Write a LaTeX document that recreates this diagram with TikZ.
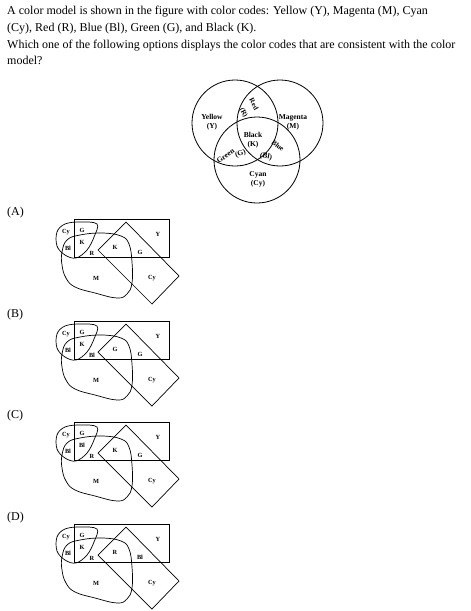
\documentclass[tikz,border=0pt]{standalone}
\usepackage{fontspec}
\setmainfont{Liberation Serif}
\begin{document}
\begin{tikzpicture}[x=1pt,y=-1pt,
  txt/.style={anchor=base west, inner sep=0pt, font=\fontsize{12}{14}\selectfont},
  vlab/.style={font=\fontsize{7.5}{9}\selectfont\bfseries, align=center, inner sep=0pt},
  olab/.style={font=\fontsize{6.3}{7}\selectfont\bfseries, inner sep=0pt},
  shp/.style={draw, line width=0.7pt},
  vc/.style={circle, draw, line width=0.8pt, minimum size=86pt, inner sep=0pt}]
\useasboundingbox (0,0) rectangle (471,611);
% question text
\node[txt] (t1) at (7,14.5) {A color model is shown in the figure with color codes: Yellow (Y), Magenta (M), Cyan};
\node[txt] (t2) at (7,31) {(Cy), Red (R), Blue (Bl), Green (G), and Black (K).};
\node[txt] (t3) at (7,48) {Which one of the following options displays the color codes that are consistent with the color};
\node[txt] (t4) at (7,64.5) {model?};
% Venn diagram
\node[vc] (cY) at (235,123) {};
\node[vc] (cM) at (280,123) {};
\node[vc] (cC) at (257,160) {};
\node[vlab] (lY) at (212,122) {Yellow\\(Y)};
\node[vlab] (lM) at (293,122) {Magenta\\(M)};
\node[vlab] (lK) at (253,140) {Black\\(K)};
\node[vlab] (lC) at (258,179) {Cyan\\(Cy)};
\node[vlab, font=\fontsize{7}{8}\selectfont\bfseries, rotate=-62] (lR1) at (254,104) {Red};
\node[vlab, font=\fontsize{7}{8}\selectfont\bfseries, rotate=-62] (lR2) at (243.5,112.5) {(R)};
\node[vlab, rotate=35] (lG1) at (225.5,156) {Green};
\node[vlab, rotate=20] (lG2) at (240.5,153.5) {(G)};
\node[vlab, font=\fontsize{7}{8}\selectfont\bfseries, rotate=-38] (lB1) at (278,145.5) {Blue};
\node[vlab, rotate=-12] (lB2) at (266,156.5) {(Bl)};
% options
\foreach \dy/\L/\a/\c/\d/\e in {0/A/K/R/K/G, 102/B/K/Bl/G/G, 203/C/Bl/R/K/G, 305/D/K/R/R/Bl}{
  \begin{scope}[shift={(0,\dy)}]
    \node[txt] (opt\L) at (7,215) {(\L)};
    \draw[shp] (74,219) rectangle (169,257);
    \draw[shp] (126,222) -- (179,276) -- (152,304) -- (98,250) -- cycle;
    \draw[shp] plot[smooth cycle, tension=0.7] coordinates {(62,252) (67,240) (80,235) (102,233) (121,236) (129,244) (132,262) (132,283) (127,294) (117,298) (95,293) (75,287) (66,278) (62,265)};
    \draw[shp] plot[smooth cycle, tension=0.6] coordinates {(97,224) (94,237) (87,250) (76,258) (65,255) (57,246) (57,232) (65,224) (80,222)};
    \node[olab] (cy\L) at (66,232.5) {Cy};
    \node[olab] (g\L) at (82,230) {G};
    \node[olab] (a\L) at (82,242) {\a};
    \node[olab] (b\L) at (68,248) {Bl};
    \node[olab] (c\L) at (92,253) {\c};
    \node[olab] (d\L) at (115,247.5) {\d};
    \node[olab] (e\L) at (140,252) {\e};
    \node[olab] (y\L) at (158,234) {Y};
    \node[olab] (m\L) at (96,278) {M};
    \node[olab] (cc\L) at (152,278) {Cy};
  \end{scope}
}
\end{tikzpicture}
\end{document}
